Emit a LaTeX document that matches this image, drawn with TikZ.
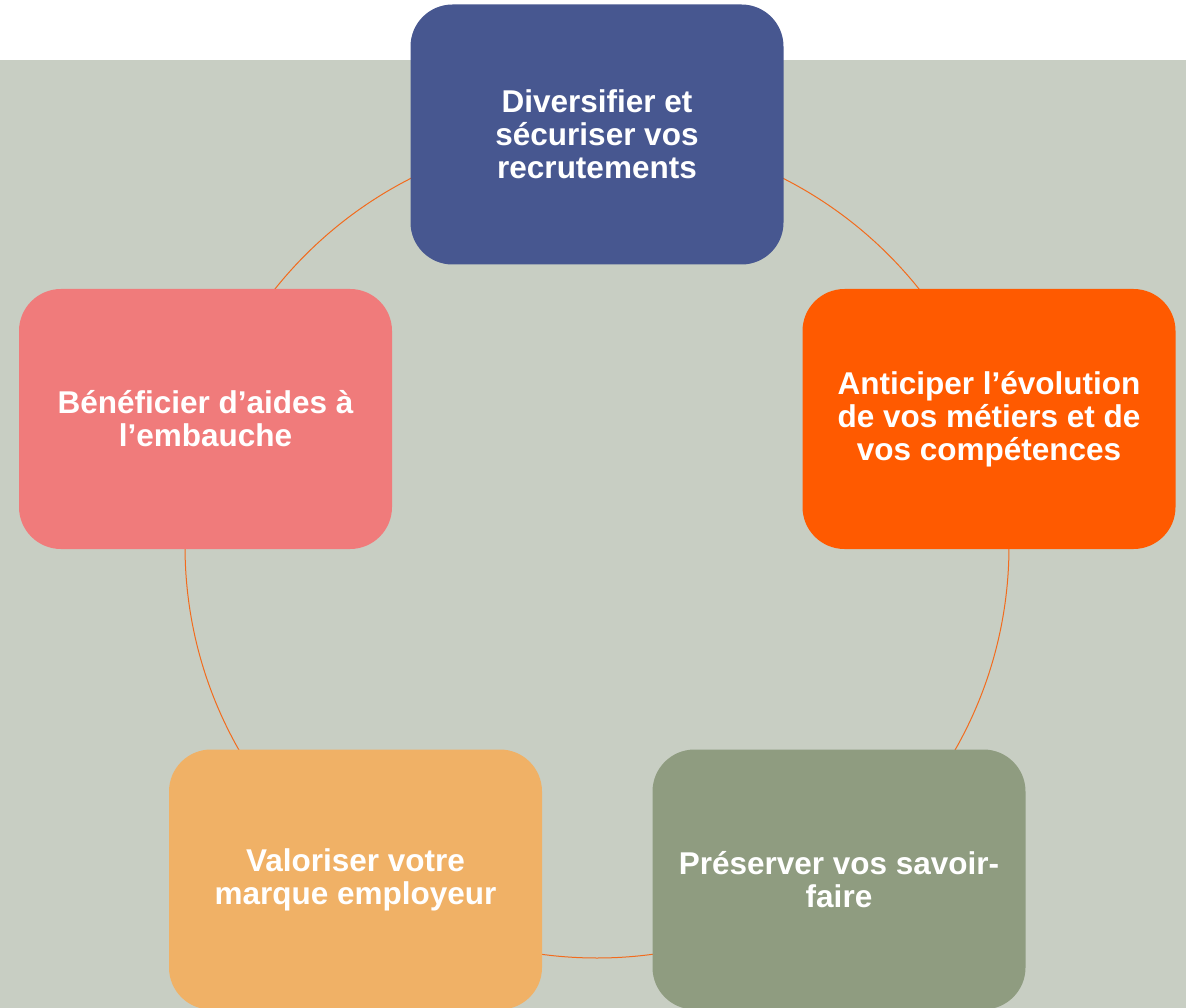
\documentclass[tikz,border=0pt]{standalone}
\usepackage{fontspec}
\setmainfont{Liberation Sans}
\definecolor{bgc}{HTML}{C8CEC3}
\definecolor{cblue}{HTML}{475790}
\definecolor{corange}{HTML}{FF5A00}
\definecolor{cgreen}{HTML}{8F9C80}
\definecolor{clight}{HTML}{F0B166}
\definecolor{cpink}{HTML}{F07B7B}
\definecolor{ringc}{HTML}{F26B1D}
\tikzset{
  box/.style={rectangle, rounded corners=42pt, minimum width=373pt, minimum height=260pt,
    inner sep=0pt, align=center, text=white,
    font=\fontsize{31.5}{33}\selectfont\bfseries},
  ring/.style={draw=ringc, line width=1pt}
}
\begin{document}
\begin{tikzpicture}[x=1pt,y=-1pt]
\useasboundingbox (0,0) rectangle (1186,1008);
\clip (0,0) rectangle (1186,1008);
\fill[white] (0,0) rectangle (1186,60);
\fill[bgc] (0,60) rectangle (1186,1008);
\coordinate (c) at (597,546);
\draw[ring] (c) circle[radius=412];
\node[box, fill=cblue] (n1) at (597,134.5) {Diversifier et\\sécuriser vos\\recrutements};
\node[box, fill=corange] (n2) at (989,419) {Anticiper l’évolution\\de vos métiers et de\\vos compétences};
\node[box, fill=cgreen] (n3) at (839,879.5) {Préserver vos savoir-\\faire};
\node[box, fill=clight] (n4) at (355.5,879.5) {Valoriser votre\\marque employeur};
\node[box, fill=cpink] (n5) at (205.5,419) {Bénéficier d’aides à\\l’embauche};
\end{tikzpicture}
\end{document}
